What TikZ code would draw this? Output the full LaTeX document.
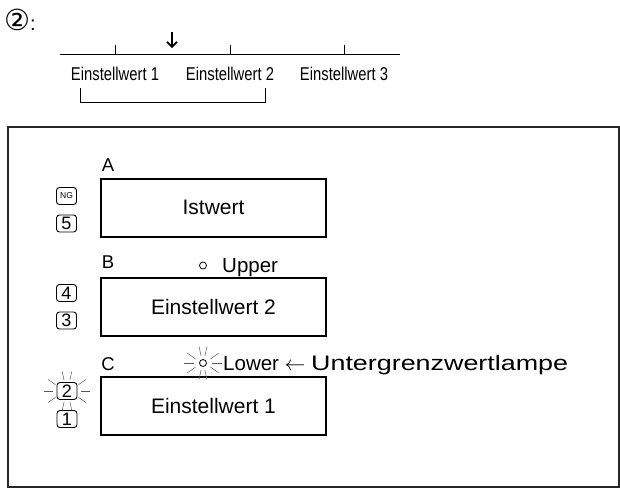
\documentclass[tikz,border=0pt]{standalone}
\usepackage{fontspec}
\setmainfont{Liberation Sans}
\newfontfamily\narrowfont[FakeStretch=0.8]{Liberation Sans}
\newfontfamily\widefont[FakeStretch=1.28]{Liberation Sans}
\newfontfamily\symfont{DejaVu Sans}
\usetikzlibrary{arrows.meta, positioning}

\tikzset{
    display/.style={draw, line width=2pt, minimum width=225pt, minimum height=58pt, inner sep=0pt, font=\fontsize{21}{24}\selectfont},
    key/.style={draw, rounded corners=3pt, line width=0.9pt, minimum width=20pt, minimum height=17pt, inner sep=0pt, font=\fontsize{18}{18}\selectfont},
    tag/.style={anchor=base, inner sep=0pt, font=\fontsize{18.5}{20}\selectfont},
    scalelabel/.style={anchor=base, inner sep=0pt, font=\narrowfont\fontsize{18.5}{20}\selectfont},
    lamp/.style={draw, circle, line width=0.8pt, minimum size=7pt, inner sep=0pt},
    lamptext/.style={anchor=base west, inner sep=0pt, font=\fontsize{20.5}{24}\selectfont},
    ray/.style={line width=0.5pt, black!65},
}

\begin{document}
\begin{tikzpicture}[x=1pt, y=-1pt]
    \useasboundingbox (0,0) rectangle (620,488);

    % scale with the set values
    \node (step2) [anchor=base west, inner sep=0pt, font=\fontsize{20}{24}\selectfont] at (4,30) {{\symfont\fontsize{29}{30}\selectfont ②}:};
    \coordinate (scaleL) at (60,54);
    \coordinate (scaleR) at (400,54);
    \draw [line width=0.8pt] (scaleL) -- (scaleR);
    \foreach \x/\n in {115/1, 230/2, 344/3} {
        \draw [line width=0.8pt] (\x,45) -- (\x,54);
        \node (sv\n) [scalelabel] at (\x,80) {Einstellwert \n};
    }
    \coordinate (arrowtop) at (172,32);
    \coordinate (arrowtip) at (172,48);
    \draw [line width=1.6pt, -{Straight Barb[length=5pt, width=10pt]}] (arrowtop) -- (arrowtip);
    \draw [line width=0.8pt] (80,88) -- (80,102) -- (265,102) -- (265,88);

    % panel
    \draw [line width=1.3pt, black!85] (8,127) rectangle (619,487);

    \node (dispA) [display] at (213.5,207.5) {Istwert};
    \node (dispB) [display] at (213.5,306.5) {Einstellwert 2};
    \node (dispC) [display] at (213.5,406) {Einstellwert 1};
    \node (tagA) [tag] at (108,171) {A};
    \node (tagB) [tag] at (108,268) {B};
    \node (tagC) [tag] at (108,370) {C};

    \node (lampU) [lamp] at (203,265.5) {};
    \node (upper) [lamptext] at (222,272.5) {Upper};
    \node (lampL) [lamp] at (203,363) {};
    \node (lower) [lamptext] at (223,370) {Lower $\leftarrow$ {\widefont\fontsize{21}{24}\selectfont Untergrenzwertlampe}};

    % keys
    \node (keyNG) [key, font=\fontsize{8.5}{9}\selectfont] at (66.5,196) {NG};
    \node (key5) [key] at (66.5,223.5) {5};
    \node (key4) [key] at (66.5,293) {4};
    \node (key3) [key] at (66.5,320.5) {3};
    \node (key2) [key] at (67,391) {2};
    \node (key1) [key] at (67,419) {1};

    % blinking
    \foreach \a in {0,35,78,102,145,180,215,258,282,325} {
        \draw [ray] (key2.center) ++(\a:14 and 11) -- ++(\a:9);
        \draw [ray] (lampL.center) ++(\a:9 and 7) -- ++(\a:10);
    }
\end{tikzpicture}
\end{document}
